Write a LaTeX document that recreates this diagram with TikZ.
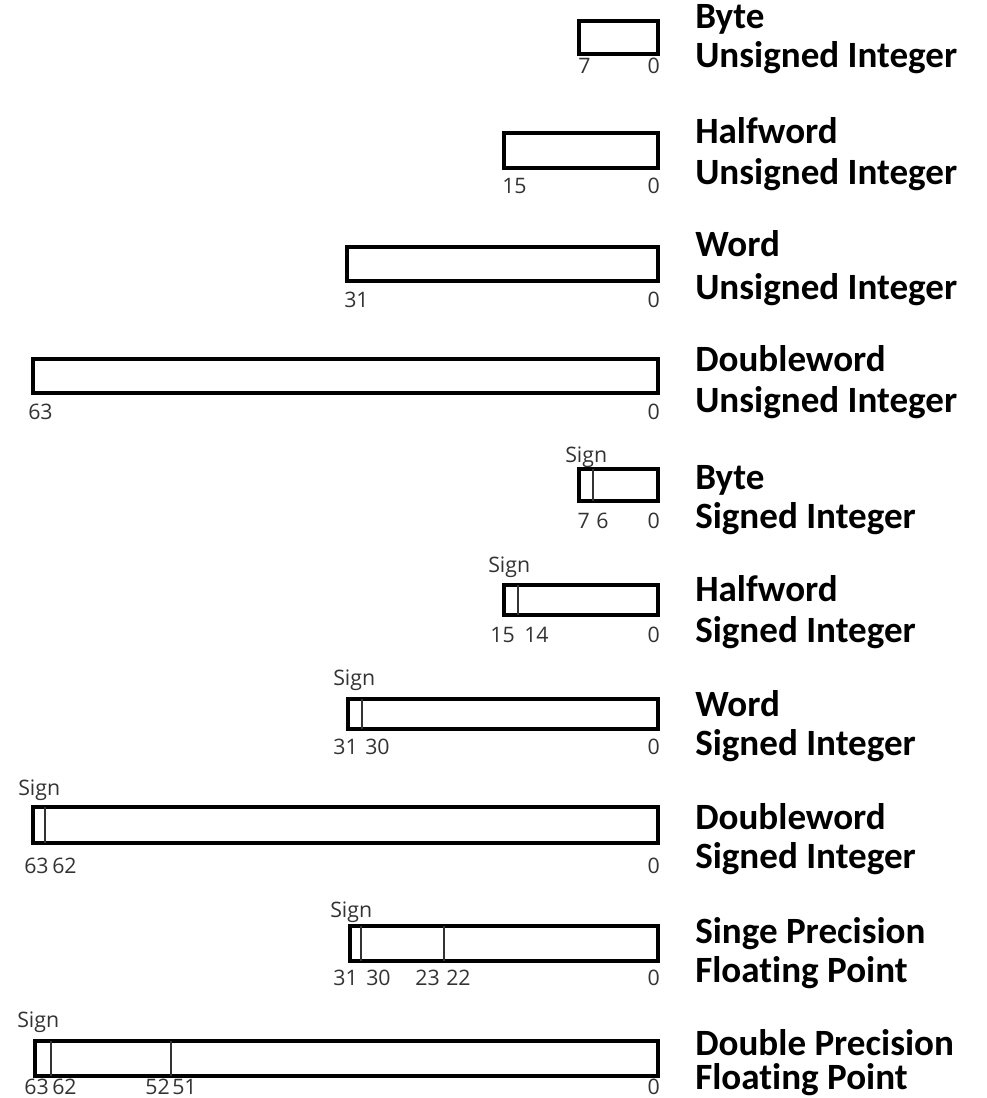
\documentclass[tikz,border=0pt]{standalone}
\usepackage{fontspec}
\newfontfamily\lblfont[Ligatures=NoCommon]{Carlito}
\newfontfamily\numfont{Open Sans}
\begin{document}
\begin{tikzpicture}[x=0.75pt,y=-0.75pt,
  boxline/.style={draw=black,line width=3pt},
  sepline/.style={draw=black!80,line width=1.1pt},
  lbl/.style={inner sep=0pt,anchor=base west,font=\lblfont\bfseries\fontsize{27.8}{30}\selectfont},
  num/.style={inner sep=0pt,text=black!80,font=\numfont\fontsize{16}{18}\selectfont},
  numL/.style={num,anchor=base west},
  numR/.style={num,anchor=base east}]
\useasboundingbox (0,0) rectangle (987,1098);

% 1 Byte unsigned
\draw[boxline] (579,21) rectangle (658,54);
\node[numL] (n1a) at (578,74) {7};
\node[numR] (n1b) at (660,74) {0};
\node[lbl] (l1a) at (695,29) {Byte};
\node[lbl] (l1b) at (695,68) {Unsigned Integer};

% 2 Halfword unsigned
\draw[boxline] (504,133) rectangle (658,168);
\node[numL] (n2a) at (502,194) {15};
\node[numR] (n2b) at (660,194) {0};
\node[lbl] (l2a) at (695,144) {Halfword};
\node[lbl] (l2b) at (695,185) {Unsigned Integer};

% 3 Word unsigned
\draw[boxline] (347,247) rectangle (658,281);
\node[numL] (n3a) at (344,307) {31};
\node[numR] (n3b) at (660,307) {0};
\node[lbl] (l3a) at (695,256) {Word};
\node[lbl] (l3b) at (695,299) {Unsigned Integer};

% 4 Doubleword unsigned
\draw[boxline] (33,359) rectangle (658,393);
\node[numL] (n4a) at (28,419) {63};
\node[numR] (n4b) at (660,419) {0};
\node[lbl] (l4a) at (695,371) {Doubleword};
\node[lbl] (l4b) at (695,412) {Unsigned Integer};

% 5 Byte signed
\draw[boxline] (579,469) rectangle (658,501);
\draw[sepline] (593,469) -- (593,501);
\node[numL] (s5) at (565,462) {Sign};
\node[numR] (n5a) at (590,528) {7};
\node[numL] (n5b) at (596,528) {6};
\node[numR] (n5c) at (660,528) {0};
\node[lbl] (l5a) at (695,489) {Byte};
\node[lbl] (l5b) at (695,528) {Signed Integer};

% 6 Halfword signed
\draw[boxline] (504,585) rectangle (658,615);
\draw[sepline] (518,585) -- (518,615);
\node[numL] (s6) at (488,572) {Sign};
\node[numR] (n6a) at (515,642) {15};
\node[numL] (n6b) at (524,642) {14};
\node[numR] (n6c) at (660,642) {0};
\node[lbl] (l6a) at (695,601) {Halfword};
\node[lbl] (l6b) at (695,642) {Signed Integer};

% 7 Word signed
\draw[boxline] (348,699) rectangle (658,729);
\draw[sepline] (362,699) -- (362,729);
\node[numL] (s7) at (333,685) {Sign};
\node[numR] (n7a) at (358,754) {31};
\node[numL] (n7b) at (365,754) {30};
\node[numR] (n7c) at (660,754) {0};
\node[lbl] (l7a) at (695,716) {Word};
\node[lbl] (l7b) at (695,755) {Signed Integer};

% 8 Doubleword signed
\draw[boxline] (33,807) rectangle (658,843);
\draw[sepline] (45,807) -- (45,843);
\node[numL] (s8) at (18,795) {Sign};
\node[numL] (n8a) at (24,873) {63};
\node[numL] (n8b) at (52,873) {62};
\node[numR] (n8c) at (660,873) {0};
\node[lbl] (l8a) at (695,829) {Doubleword};
\node[lbl] (l8b) at (695,868) {Signed Integer};

% 9 Single precision
\draw[boxline] (350,926) rectangle (658,961);
\draw[sepline] (361,926) -- (361,961);
\draw[sepline] (444,926) -- (444,961);
\node[numL] (s9) at (330,917) {Sign};
\node[numR] (n9a) at (358,985) {31};
\node[numL] (n9b) at (366,985) {30};
\node[numR] (n9c) at (440,985) {23};
\node[numL] (n9d) at (446,985) {22};
\node[numR] (n9e) at (660,985) {0};
\node[lbl] (l9a) at (695,943) {Singe Precision};
\node[lbl] (l9b) at (695,982) {Floating Point};

% 10 Double precision
\draw[boxline] (35,1041) rectangle (658,1076);
\draw[sepline] (51,1041) -- (51,1076);
\draw[sepline] (171,1041) -- (171,1076);
\node[numL] (s10) at (17,1027) {Sign};
\node[numR] (n10a) at (49,1094) {63};
\node[numL] (n10b) at (52,1094) {62};
\node[numR] (n10c) at (170,1094) {52};
\node[numL] (n10d) at (172,1094) {51};
\node[numR] (n10e) at (660,1094) {0};
\node[lbl] (l10a) at (695,1055) {Double Precision};
\node[lbl] (l10b) at (695,1089) {Floating Point};
\end{tikzpicture}
\end{document}
